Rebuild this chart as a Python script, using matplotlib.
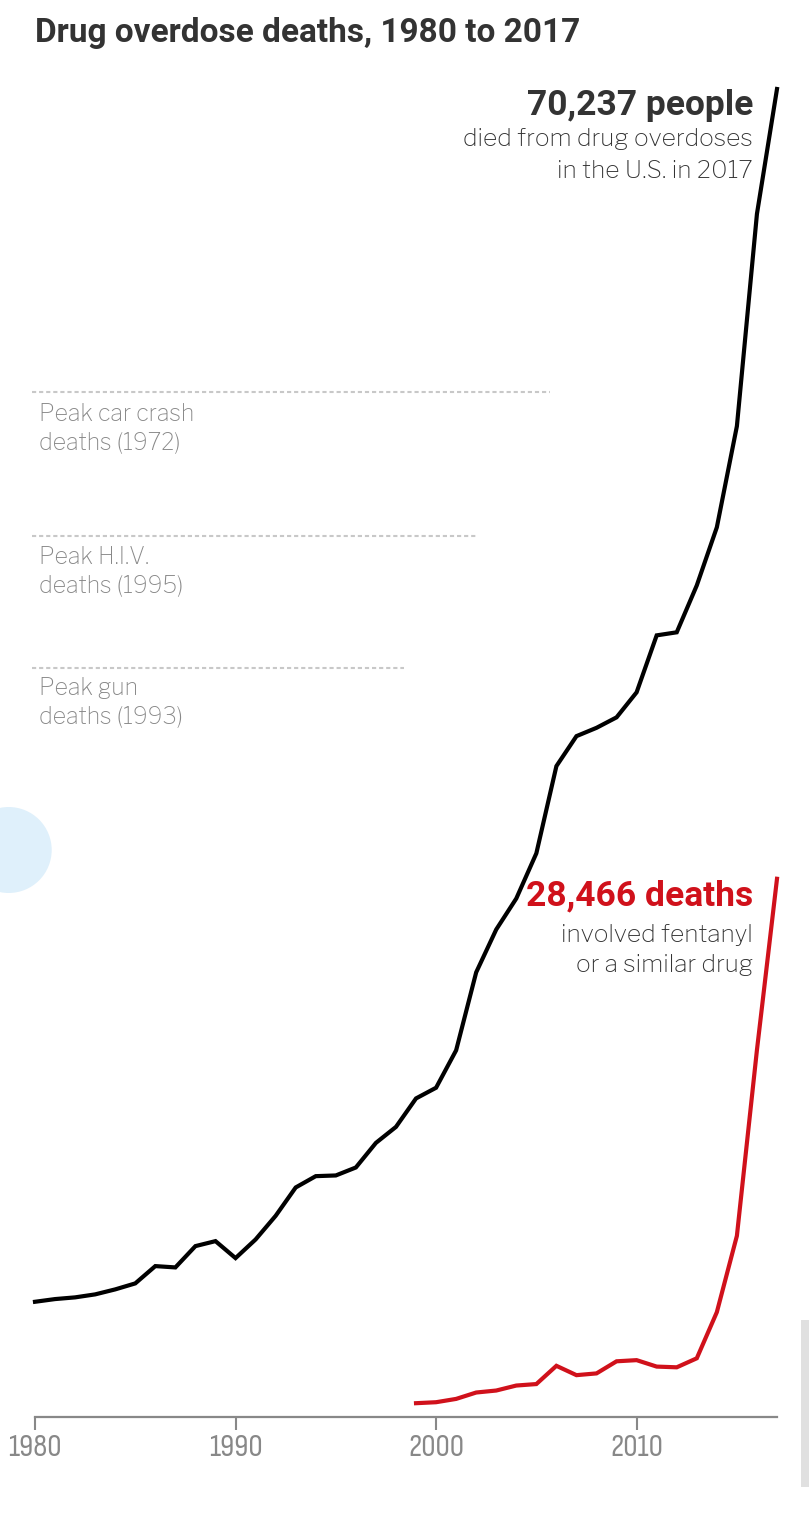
#!/usr/bin/env python3
"""
Drug overdose deaths in the U.S., 1980 to 2017, with fentanyl-related deaths.
"""

import matplotlib
matplotlib.use("Agg")
import matplotlib.pyplot as plt
import matplotlib.patches as patches

# Data
years = list(range(1980, 2018))
overdose_deaths = [6094, 6237, 6327, 6485, 6749, 7066, 7981, 7911, 9038, 9302,
                   8404, 9390, 10640, 12140, 12738, 12775, 13197, 14498, 15344,
                   16849, 17415, 19394, 23518, 25785, 27424, 29813, 34425, 36010,
                   36450, 37004, 38329, 41340, 41502, 43982, 47055, 52404, 63632,
                   70237]

fentanyl_years = list(range(1999, 2018))
fentanyl_deaths = [730, 782, 957, 1295, 1400, 1664, 1742, 2707, 2213, 2306,
                   2946, 3007, 2666, 2628, 3105, 5544, 9580, 19413, 28466]

peak_labels = ["Peak car crash\ndeaths (1972)", "Peak H.I.V.\ndeaths (1995)",
               "Peak gun\ndeaths (1993)"]
peak_values = [54200, 46600, 39600]
peak_line_end = [2005.7, 2002.1, 1998.4]

tick_years = [1980, 1990, 2000, 2010]

# Style
W, H = 809, 1537
DPI = 100
BLACK = "#000000"
RED = "#d0111b"
DARK = "#333333"
GREY = "#888888"
FRANKLIN = ["Libre Franklin", "Roboto", "DejaVu Sans"]
HEAVY = ["Roboto", "Liberation Sans", "DejaVu Sans"]
NARROW = ["Sofia Sans Condensed", "Liberation Sans Narrow", "DejaVu Sans"]


def fy(py):
    """Pixel row -> figure fraction."""
    return 1 - py / H


def fx(px):
    return px / W


fig = plt.figure(figsize=(W / DPI, H / DPI), dpi=DPI)
fig.patch.set_facecolor("white")

# axes: 1980 at x=35, 2017 at x=777; 0 at y=1417, 70,237 at y=89
ax = fig.add_axes([fx(35), fy(1417), fx(777) - fx(35), fy(89) - fy(1417)])
ax.set_xlim(1980, 2017)
ax.set_ylim(0, 70237)
ax.patch.set_alpha(0)

# reference lines for other causes of death
for val, x_end in zip(peak_values, peak_line_end):
    ax.plot([1979.85, x_end], [val, val], color="#c8c8c8", linewidth=1.5,
            linestyle=(0, (2, 1.4)), clip_on=False, zorder=1)

# main series
ax.plot(years, overdose_deaths, color=BLACK, linewidth=3.0,
        solid_joinstyle="miter", clip_on=False, zorder=3)
ax.plot(fentanyl_years, fentanyl_deaths, color=RED, linewidth=3.0,
        solid_joinstyle="miter", clip_on=False, zorder=3)

# axis
for side in ["left", "right", "top"]:
    ax.spines[side].set_visible(False)
ax.spines["bottom"].set_color(GREY)
ax.spines["bottom"].set_linewidth(1.6)
ax.set_yticks([])
ax.set_xticks(tick_years)
ax.set_xticklabels([str(y) for y in tick_years], family=NARROW, fontsize=23,
                   color=GREY)
ax.tick_params(axis="x", length=9, width=1.5, color=GREY, pad=3)

# title
fig.text(fx(35), fy(42), "Drug overdose deaths, 1980 to 2017",
         family=HEAVY, fontweight="bold", fontsize=24, color=DARK,
         ha="left", va="baseline")

# annotations
fig.text(fx(753), fy(115), "70,237 people", family=HEAVY,
         fontweight="bold", fontsize=25.5, color=DARK, ha="right",
         va="baseline")
fig.text(fx(753), fy(146), "died from drug overdoses", family=FRANKLIN,
         fontweight="light", fontsize=17.7, color=DARK, ha="right",
         va="baseline")
fig.text(fx(753), fy(178), "in the U.S. in 2017", family=FRANKLIN,
         fontweight="light", fontsize=17.7, color=DARK, ha="right",
         va="baseline")

fig.text(fx(753), fy(905), "28,466 deaths", family=HEAVY,
         fontweight="bold", fontsize=25.5, color=RED, ha="right",
         va="baseline")
fig.text(fx(753), fy(942), "involved fentanyl", family=FRANKLIN,
         fontweight="light", fontsize=17.7, color=DARK, ha="right",
         va="baseline")
fig.text(fx(753), fy(972), "or a similar drug", family=FRANKLIN,
         fontweight="light", fontsize=17.7, color=DARK, ha="right",
         va="baseline")

# peak labels
peak_baselines = [421, 564, 695]
for label, base in zip(peak_labels, peak_baselines):
    first, second = label.split("\n")
    fig.text(fx(39), fy(base), first, family=FRANKLIN, fontweight="light",
             fontsize=16.6, color=GREY, ha="left", va="baseline")
    fig.text(fx(39), fy(base + 28.5), second, family=FRANKLIN,
             fontweight="light", fontsize=16.6, color=GREY, ha="left",
             va="baseline")

# screen overlays seen in the reference
fig.patches.append(patches.Circle((8.7 / DPI, (H - 850) / DPI), 43 / DPI,
                                  transform=fig.dpi_scale_trans,
                                  facecolor="#dff0fb", edgecolor="none"))
fig.patches.append(patches.Rectangle((fx(801), fy(1487)), 8 / W, 167 / H,
                                     transform=fig.transFigure,
                                     facecolor="#e0e0e0", edgecolor="none"))

fig.savefig("out.png", dpi=DPI)
plt.close(fig)
